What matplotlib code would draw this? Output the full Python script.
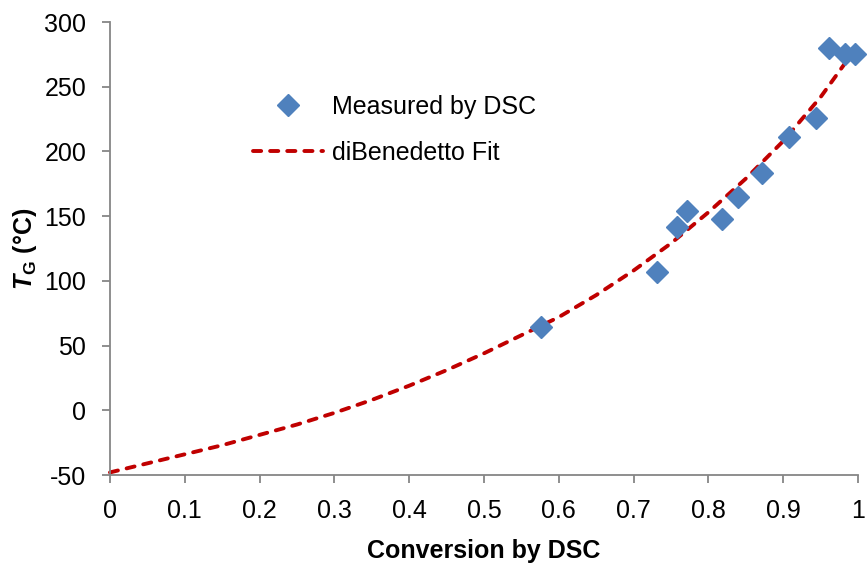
import matplotlib.pyplot as plt

plt.rcParams['font.family'] = ['Liberation Sans', 'DejaVu Sans']
plt.rcParams['axes.unicode_minus'] = False
plt.rcParams['mathtext.fontset'] = 'custom'
plt.rcParams['mathtext.rm'] = 'Liberation Sans'
plt.rcParams['mathtext.bf'] = 'Liberation Sans:bold'
plt.rcParams['mathtext.it'] = 'Liberation Sans:italic'
plt.rcParams['mathtext.bfit'] = 'Liberation Sans:bold:italic'

# measured points (conversion, Tg in degC)
meas_x = [0.576, 0.731, 0.758, 0.771, 0.818, 0.840, 0.872, 0.908, 0.944, 0.961, 0.983, 0.996]
meas_y = [64, 107, 142, 154, 148, 165, 183, 211, 226, 280, 275, 275]

# diBenedetto fit curve
fit_x = [0, 0.05, 0.1, 0.15, 0.2, 0.25, 0.3, 0.35, 0.4, 0.45, 0.5,
         0.55, 0.6, 0.65, 0.7, 0.75, 0.8, 0.85, 0.9, 0.95, 1.0]
fit_y = [-48, -41, -34, -27, -19, -11, -2, 8, 19, 31, 44,
         58, 72, 89, 108, 129, 153, 179, 208, 242, 282]

fs = 18

fig = plt.figure(figsize=(8.68, 5.63), dpi=100)
ax = fig.add_axes([0.1267, 0.1563, 0.8618, 0.8046])

ax.plot(meas_x, meas_y, linestyle='none', marker='D', markersize=11,
        color='#4F81BD', label='Measured by DSC', zorder=3, clip_on=False)
ax.plot(fit_x, fit_y, linestyle=(0, (2.1, 2.3)), color='#C00000', linewidth=2.8,
        dash_capstyle='round', label='diBenedetto Fit', zorder=2, clip_on=False)

ax.set_xlim(0, 1)
ax.set_ylim(-50, 300)
ax.set_xticks([i / 10 for i in range(11)])
ax.set_xticklabels(['0', '0.1', '0.2', '0.3', '0.4', '0.5', '0.6', '0.7', '0.8', '0.9', '1'])
ax.set_yticks(range(-50, 301, 50))

for side in ['top', 'right']:
    ax.spines[side].set_visible(False)
for side in ['left', 'bottom']:
    ax.spines[side].set_color('#868686')
    ax.spines[side].set_linewidth(1.3)
ax.tick_params(direction='out', length=6, width=1.3, color='#868686',
               labelsize=fs, pad=11)

ax.set_xlabel('Conversion by DSC', fontsize=fs, fontweight='bold', labelpad=12)
ax.set_ylabel(r'$\mathbfit{T}_\mathbf{G}$ (°C)', fontsize=fs, fontweight='bold', labelpad=4)

ax.legend(loc='upper left', bbox_to_anchor=(0.161, 0.889), frameon=False,
          fontsize=fs, handlelength=2.8, labelspacing=0.87, handletextpad=0.35)

fig.savefig('out.png', dpi=100)
